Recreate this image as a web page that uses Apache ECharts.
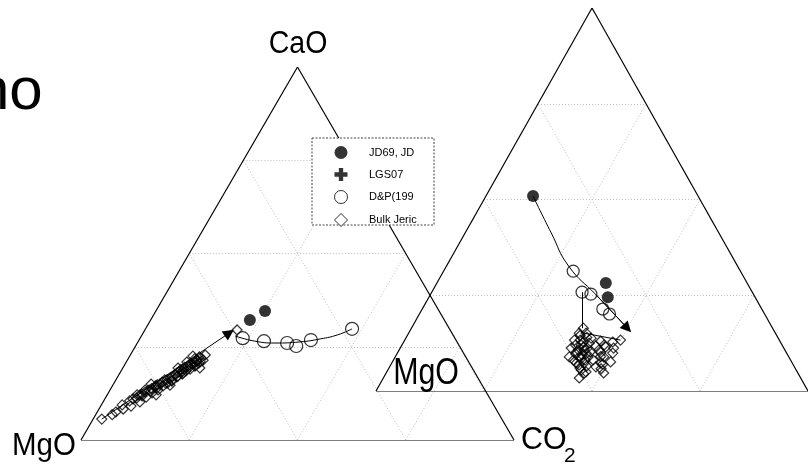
<!DOCTYPE html>
<html>
<head>
<meta charset="utf-8">
<script src="https://cdn.jsdelivr.net/npm/echarts@6/dist/echarts.min.js"></script>
<style>
html,body{margin:0;padding:0;background:#fff;}
#chart{width:808px;height:467px;}
</style>
</head>
<body>
<div id="chart"></div>
<script>
// Compositions are [CaO %, CO2 %]; MgO % is the remainder to 100.
const gridTicks = [25, 50, 75];

// Left diagram (MgO - CaO - CO2)
const leftJD = [[32.2, 22.9], [34.6, 25.2]];
const leftDP = [[29.8, 47.7], [26.8, 39.7], [25.2, 37.1], [26.0, 34.6], [26.5, 29.0], [27.3, 23.7]];
const leftBulk = [
  [5.6, 2.0], [7.5, 4.3], [9.4, 4.8], [9.1, 7.0], [11.0, 6.5], [10.2, 8.5], [12.3, 7.9], [11.5, 9.3],
  [13.4, 9.0], [12.6, 10.1], [14.2, 10.0], [13.4, 11.1], [15.0, 10.7], [14.5, 11.7], [16.1, 11.3],
  [15.3, 12.4], [16.6, 12.3], [15.8, 13.1], [17.4, 13.0], [16.9, 13.7], [18.2, 13.5], [17.7, 14.5],
  [19.0, 14.3], [18.5, 15.0], [19.8, 14.8], [19.0, 15.7], [20.4, 15.4], [19.8, 16.4], [21.2, 16.2],
  [20.6, 16.9], [22.0, 16.7], [21.4, 17.5], [19.3, 17.8], [20.9, 14.0], [22.5, 14.6], [14.7, 13.2],
  [12.1, 11.3], [13.4, 8.1], [29.5, 21.3], [12.1, 6.9], [15.0, 8.7], [19.3, 12.75],
  [10.5, 6.0], [11.2, 7.2], [12.0, 7.5], [12.8, 8.4], [13.0, 9.6], [13.8, 9.4], [14.0, 10.6], [14.8, 10.2],
  [15.5, 11.0], [15.2, 12.0], [16.2, 11.8], [16.0, 12.9], [17.0, 12.6], [17.2, 13.8], [18.0, 13.2],
  [18.4, 14.2], [18.9, 13.6], [19.5, 14.2], [19.6, 15.3], [20.2, 15.0], [20.8, 15.8], [21.5, 16.0],
  [21.0, 17.0], [22.3, 16.2], [22.8, 17.3], [21.8, 15.4], [20.0, 16.4], [17.8, 14.6], [14.6, 10.0],
  [11.8, 8.2], [8.3, 5.6], [6.8, 3.8]
];
const leftCurve = [[29.8, 47.7], [28.2, 45.2], [27.1, 41.7], [26.3, 37.4], [26.0, 31.8], [26.5, 26.9], [27.9, 21.6]];
const leftArrow = [[5.6, 2.0], [28.7, 19.9]];

// Right diagram
const rightJD = [[50.9, 10.9], [28.2, 39.1], [24.5, 41.4]];
const rightDP = [[31.3, 30.0], [25.8, 34.8], [25.3, 37.1], [21.4, 41.8], [20.1, 44.0]];
const rightBulk = [
  [16.4, 39.8], [13.3, 49.95], [15.1, 39.5], [15.1, 41.1], [13.3, 39.3], [12.8, 41.6], [12.5, 43.1],
  [11.2, 39.6], [10.7, 41.5], [10.7, 42.85], [8.9, 40.3], [8.9, 42.6], [8.9, 44.65], [7.3, 42.7],
  [7.3, 44.5], [5.5, 44.75], [3.4, 45.35], [8.1, 46.2], [10.7, 46.25], [11.5, 47.45], [12.8, 48.4],
  [8.9, 48.25], [9.9, 49.85], [7.6, 50.5], [7.3, 48.4], [4.7, 50.35], [11.2, 49.4], [6.3, 47.75],
  [5.0, 46.1], [8.1, 41.65], [12.0, 41.5], [11.2, 43.3], [10.2, 41.3], [9.4, 43.0], [10.2, 44.45],
  [8.1, 44.35], [13.3, 40.65], [13.8, 42.9],
  [14.5, 40.0], [12.0, 40.2], [11.5, 42.4], [9.6, 41.5], [9.8, 43.8], [8.4, 43.2], [6.8, 43.6],
  [6.5, 45.5], [6.0, 44.2], [4.5, 45.8], [9.0, 47.5], [10.0, 47.0], [12.0, 46.8], [7.0, 49.0],
  [5.8, 49.2], [11.8, 45.0], [13.0, 45.5], [14.0, 41.8]
];
const rightCurve = [[50.9, 10.9], [41.3, 19.9], [32.6, 28.3], [25.1, 38.4], [16.4, 50.0]];
const rightArrow = [[25.1, 38.4], [16.4, 50.0]];
const rightTie1 = [[25.8, 34.8], [16.4, 39.5]];
const rightTie2 = [[15.1, 40.6], [13.3, 49.95]];

const legendNames = ['JD69, JD', 'LGS07', 'D&P(199', 'Bulk Jeric'];

const H = Math.sqrt(3) / 2;
function proj(p) { // ternary [CaO, CO2] -> plot coords
  const cao = p[0], co2 = p[1];
  return [co2 + cao / 2, cao * H];
}
const P = arr => arr.map(proj);

function frameSegs() {
  const v = [[0, 0], [0, 100], [100, 0]];
  return [[v[0], v[1]], [v[1], v[2]], [v[2], v[0]]].map(s => ({ coords: P(s) }));
}
function gridSegs() {
  const segs = [];
  gridTicks.forEach(c => {
    segs.push({ coords: P([[c, 0], [c, 100 - c]]) });
    segs.push({ coords: P([[0, c], [100 - c, c]]) });
    segs.push({ coords: P([[0, 100 - c], [100 - c, 0]]) });
  });
  return segs;
}

const crossPath = 'path://M4,0H8V4H12V8H8V12H4V8H0V4H4Z';
const diamondPath = 'path://M6,0L12,6L6,12L0,6Z';
const hollow = { color: 'transparent', borderColor: '#000', borderWidth: 1.2 };

function triSeries(i) {
  return [
    { type: 'lines', coordinateSystem: 'cartesian2d', xAxisIndex: i, yAxisIndex: i, z: 1, silent: true,
      data: gridSegs(), lineStyle: { color: '#bdbdbd', width: 1, type: [1, 2], opacity: 1 } },
    { type: 'lines', coordinateSystem: 'cartesian2d', xAxisIndex: i, yAxisIndex: i, z: 2, silent: true,
      data: frameSegs(), lineStyle: { color: '#000', width: 1.2, opacity: 1 } }
  ];
}
function arrowSeries(i, seg) {
  return { type: 'lines', coordinateSystem: 'cartesian2d', xAxisIndex: i, yAxisIndex: i, z: 3,
    symbol: ['none', 'triangle'], symbolSize: 11, data: [{ coords: P(seg) }],
    lineStyle: { color: '#000', width: 1, opacity: 1 }, itemStyle: { color: '#000' } };
}
function plainSeg(i, seg) {
  return { type: 'lines', coordinateSystem: 'cartesian2d', xAxisIndex: i, yAxisIndex: i, z: 3,
    data: [{ coords: P(seg) }], lineStyle: { color: '#000', width: 1, opacity: 1 } };
}
function curve(i, pts) {
  return { type: 'line', xAxisIndex: i, yAxisIndex: i, z: 3, data: P(pts), smooth: 0.5, symbol: 'none',
    lineStyle: { color: '#000', width: 1 } };
}
function scat(i, name, pts, symbol, size, style) {
  return { type: 'scatter', name, xAxisIndex: i, yAxisIndex: i, z: 4, data: P(pts), symbol, symbolSize: size,
    itemStyle: style };
}

const chart = echarts.init(document.getElementById('chart'), null, { renderer: 'canvas' });
chart.setOption({
  animation: false,
  backgroundColor: '#fff',
  grid: [
    { left: 81, top: 67, width: 433, height: 373 },
    { left: 376, top: 8, width: 440, height: 383 }
  ],
  xAxis: [0, 1].map(i => ({ type: 'value', gridIndex: i, min: 0, max: 100, show: false })),
  yAxis: [0, 1].map(i => ({ type: 'value', gridIndex: i, min: 0, max: 100 * H, show: false })),
  legend: {
    orient: 'vertical', left: 334, top: 146, padding: 0, itemWidth: 46, itemHeight: 13, itemGap: 9,
    selectedMode: false, z: 8,
    textStyle: { fontSize: 11, fontFamily: '"Liberation Sans", Arial, sans-serif', color: '#000' },
    data: [
      { name: legendNames[0], icon: 'circle', itemStyle: { color: '#000', borderWidth: 0 } },
      { name: legendNames[1], icon: crossPath, itemStyle: { color: '#000', borderWidth: 0 } },
      { name: legendNames[2], icon: 'circle', itemStyle: { color: '#fff', borderColor: '#000', borderWidth: 1 } },
      { name: legendNames[3], icon: diamondPath, itemStyle: { color: '#fff', borderColor: '#000', borderWidth: 1 } }
    ]
  },
  graphic: [
    { type: 'rect', z: 7, shape: { x: 312, y: 138, width: 122, height: 87 },
      style: { fill: '#fff', stroke: '#444', lineWidth: 1, lineDash: [2, 1.5] } },
    { type: 'text', x: -24, y: 92, z: 9, style: { text: 'no', font: '60px "Liberation Sans", Arial, sans-serif', fill: '#000',
      align: 'left', verticalAlign: 'middle', textAlign: 'left', textVerticalAlign: 'middle' } },
    { type: 'text', x: 298, y: 44, scaleX: 0.92, z: 9, style: { text: 'CaO', font: '31px "Liberation Sans", Arial, sans-serif', fill: '#000',
      align: 'center', verticalAlign: 'middle', textAlign: 'center', textVerticalAlign: 'middle' } },
    { type: 'text', x: 44, y: 446, scaleX: 0.95, z: 9, style: { text: 'MgO', font: '31px "Liberation Sans", Arial, sans-serif', fill: '#000',
      align: 'center', verticalAlign: 'middle', textAlign: 'center', textVerticalAlign: 'middle' } },
    { type: 'text', x: 521, y: 440, scaleX: 0.95, z: 9, style: { text: 'CO', font: '32px "Liberation Sans", Arial, sans-serif', fill: '#000',
      align: 'left', verticalAlign: 'middle', textAlign: 'left', textVerticalAlign: 'middle' } },
    { type: 'text', x: 564, y: 456, z: 9, style: { text: '2', font: '21px "Liberation Sans", Arial, sans-serif', fill: '#000',
      align: 'left', verticalAlign: 'middle', textAlign: 'left', textVerticalAlign: 'middle' } },
    { type: 'text', x: 426, y: 374, scaleX: 0.82, z: 9, style: { text: 'MgO', font: '37px "Liberation Sans", Arial, sans-serif', fill: '#000',
      align: 'center', verticalAlign: 'middle', textAlign: 'center', textVerticalAlign: 'middle' } }
  ],
  series: [
    ...triSeries(0),
    ...triSeries(1),
    curve(0, leftCurve),
    arrowSeries(0, leftArrow),
    scat(0, legendNames[3], leftBulk, 'diamond', 10, hollow),
    scat(0, legendNames[2], leftDP, 'circle', 13, hollow),
    scat(0, legendNames[0], leftJD, 'circle', 12, { color: '#000' }),
    curve(1, rightCurve),
    arrowSeries(1, rightArrow),
    plainSeg(1, rightTie1),
    plainSeg(1, rightTie2),
    scat(1, legendNames[3], rightBulk, 'diamond', 10, hollow),
    scat(1, legendNames[2], rightDP, 'circle', 12, hollow),
    scat(1, legendNames[0], rightJD, 'circle', 12, { color: '#000' }),
    scat(0, legendNames[1], [], crossPath, 12, { color: '#000' })
  ]
});
</script>
</body>
</html>
